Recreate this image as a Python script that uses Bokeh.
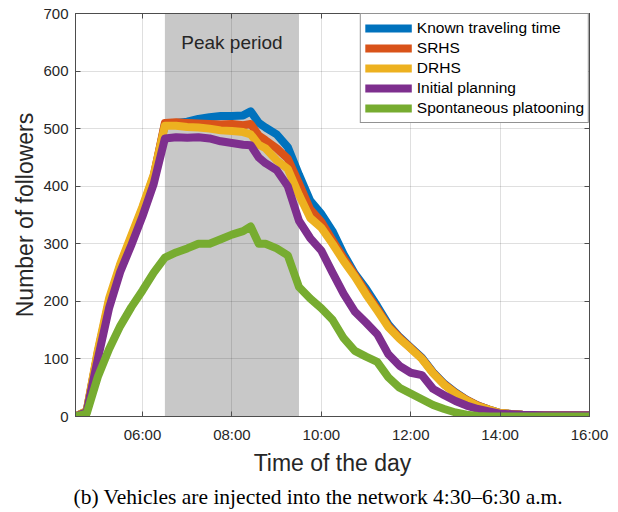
from bokeh.plotting import figure
from bokeh.models import (Range1d, FixedTicker, LinearAxis, BoxAnnotation,
                          Label, Legend, LegendItem, Title)
from bokeh.embed import file_html
from bokeh.resources import INLINE

# ---------------- data ----------------
hours = [4.5, 4.75, 5.0, 5.25, 5.5, 5.75, 6.0, 6.25, 6.5, 6.75, 7.0, 7.25, 7.5,
         7.75, 8.0, 8.25, 8.42, 8.6, 8.75, 9.0, 9.25, 9.5, 9.75, 10.0, 10.25,
         10.5, 10.75, 11.0, 11.25, 11.5, 11.75, 12.0, 12.25, 12.5, 12.75, 13.0,
         13.25, 13.5, 13.75, 14.0, 14.5, 15.0, 15.5, 16.0]

known_traveling = [0, 9, 110, 198, 260, 310, 360, 416, 508, 510, 512, 517, 520,
                   522, 522, 523, 530, 510, 502, 490, 468, 420, 375, 352, 322,
                   282, 248, 222, 192, 160, 138, 120, 102, 77, 57, 42,
                   29, 19, 12, 6, 3, 2, 2, 2]

srhs = [0, 9, 112, 200, 262, 312, 362, 418, 510, 511, 510, 509, 508,
        507, 508, 506, 508, 488, 480, 466, 448, 405, 360, 338, 306,
        275, 246, 216, 187, 157, 137, 119, 101, 76, 56, 41,
        29, 19, 12, 6, 3, 2, 2, 2]

drhs = [0, 10, 115, 205, 265, 315, 365, 420, 505, 505, 503, 502, 500,
        497, 496, 494, 490, 472, 466, 445, 430, 385, 345, 328, 300,
        270, 243, 212, 184, 155, 135, 118, 100, 75, 55, 40,
        28, 18, 12, 6, 3, 2, 2, 2]

initial_planning = [0, 8, 100, 188, 251, 298, 348, 404, 483, 485, 484, 485, 483,
                    478, 475, 472, 471, 450, 440, 428, 400, 340, 310, 288, 250,
                    213, 182, 163, 143, 108, 88, 76, 72, 48, 37, 27,
                    19, 13, 9, 5, 3, 2, 2, 2]

spontaneous = [0, 5, 69, 117, 157, 190, 219, 250, 276, 285, 292, 300, 300,
               308, 316, 322, 330, 300, 300, 292, 280, 225, 205, 188, 168,
               136, 114, 104, 95, 68, 50, 40, 30, 20, 13, 7,
               3, 1, 0, 0, 0, 0, 0, 0]

series_names = ["Known traveling time", "SRHS", "DRHS", "Initial planning",
                "Spontaneous platooning"]
series_values = [known_traveling, srhs, drhs, initial_planning, spontaneous]
series_colors = ["#0072BD", "#D95319", "#EDB120", "#7E2F8E", "#77AC30"]

x_ticks = [6, 8, 10, 12, 14, 16]
x_tick_labels = ["06:00", "08:00", "10:00", "12:00", "14:00", "16:00"]
y_ticks = [0, 100, 200, 300, 400, 500, 600, 700]

peak_start, peak_end = 6.5, 9.5
peak_text = "Peak period"
x_title = "Time of the day"
y_title = "Number of followers"
caption = "(b) Vehicles are injected into the network 4:30\u20136:30 a.m."

FONT = "Liberation Sans"
AX = "#4d4d4d"
TXT = "#262626"

# ---------------- figure ----------------
p = figure(width=618, height=512, output_backend="svg", toolbar_location=None,
           x_range=Range1d(4.5, 16), y_range=Range1d(0, 700),
           min_border_left=75, min_border_right=29, min_border_top=13,
           min_border_bottom=96)
p.background_fill_color = "white"
p.border_fill_color = "white"
p.outline_line_color = AX
p.outline_line_width = 1

p.add_layout(BoxAnnotation(left=peak_start, right=peak_end, fill_color="#c8c8c8",
                           fill_alpha=1.0, line_color=None, level="image"))

xt = FixedTicker(ticks=x_ticks)
yt = FixedTicker(ticks=y_ticks)

p.xaxis.ticker = xt
p.yaxis.ticker = yt
p.xaxis.major_label_overrides = {t: l for t, l in zip(x_ticks, x_tick_labels)}
p.xgrid.ticker = xt
p.ygrid.ticker = yt
p.grid.grid_line_color = "#262626"
p.grid.grid_line_alpha = 0.15
p.grid.grid_line_width = 1

for ax in [p.xaxis[0], p.yaxis[0]]:
    ax.axis_line_color = AX
    ax.major_tick_line_color = AX
    ax.major_tick_in = 5
    ax.major_tick_out = 0
    ax.minor_tick_line_color = None
    ax.major_label_text_font = FONT
    ax.major_label_text_font_size = "15px"
    ax.major_label_text_color = TXT
    ax.axis_label_text_font = FONT
    ax.axis_label_text_font_size = "23px"
    ax.axis_label_text_font_style = "normal"
    ax.axis_label_text_color = TXT

p.xaxis.axis_label = x_title
p.yaxis.axis_label = y_title
p.xaxis.major_label_standoff = 9
p.xaxis.axis_label_standoff = 4
p.yaxis.major_label_standoff = 7
p.yaxis.axis_label_standoff = 2

# box ticks on the top and right (MATLAB style), no labels
for loc, tk in [("above", xt), ("right", yt)]:
    ax = LinearAxis(ticker=tk, major_label_text_font_size="6px",
                    major_label_text_color=None,
                    major_label_standoff=0, axis_line_color=AX,
                    major_tick_line_color=AX, major_tick_in=5, major_tick_out=0,
                    minor_tick_line_color=None)
    p.add_layout(ax, loc)

renderers = []
for name, vals, col in zip(series_names, series_values, series_colors):
    r = p.line(hours, vals, line_color=col, line_width=8, line_join="round")
    renderers.append(r)

legend = Legend(items=[LegendItem(label=n, renderers=[r])
                       for n, r in zip(series_names, renderers)],
                location="top_right")
legend.label_text_font = FONT
legend.label_text_font_size = "15.5px"
legend.label_text_color = "black"
legend.glyph_width = 47
legend.glyph_height = 20
legend.label_height = 20
legend.label_standoff = 5
legend.spacing = 0
legend.padding = 4
legend.margin = 0
legend.border_line_color = TXT
legend.border_line_width = 1
legend.background_fill_color = "white"
legend.background_fill_alpha = 1.0
p.add_layout(legend)

p.add_layout(Label(x=8.0, y=650, text=peak_text, text_align="center",
                   text_baseline="middle", text_font=FONT,
                   text_font_size="19px", text_color=TXT))

cap = Title(text=caption, align="left", offset=-2, text_font="Liberation Serif",
            text_font_size="21.5px", text_font_style="normal",
            text_color="black", standoff=8)
p.add_layout(cap, "below")

open("out.html", "w").write(file_html(p, INLINE))
